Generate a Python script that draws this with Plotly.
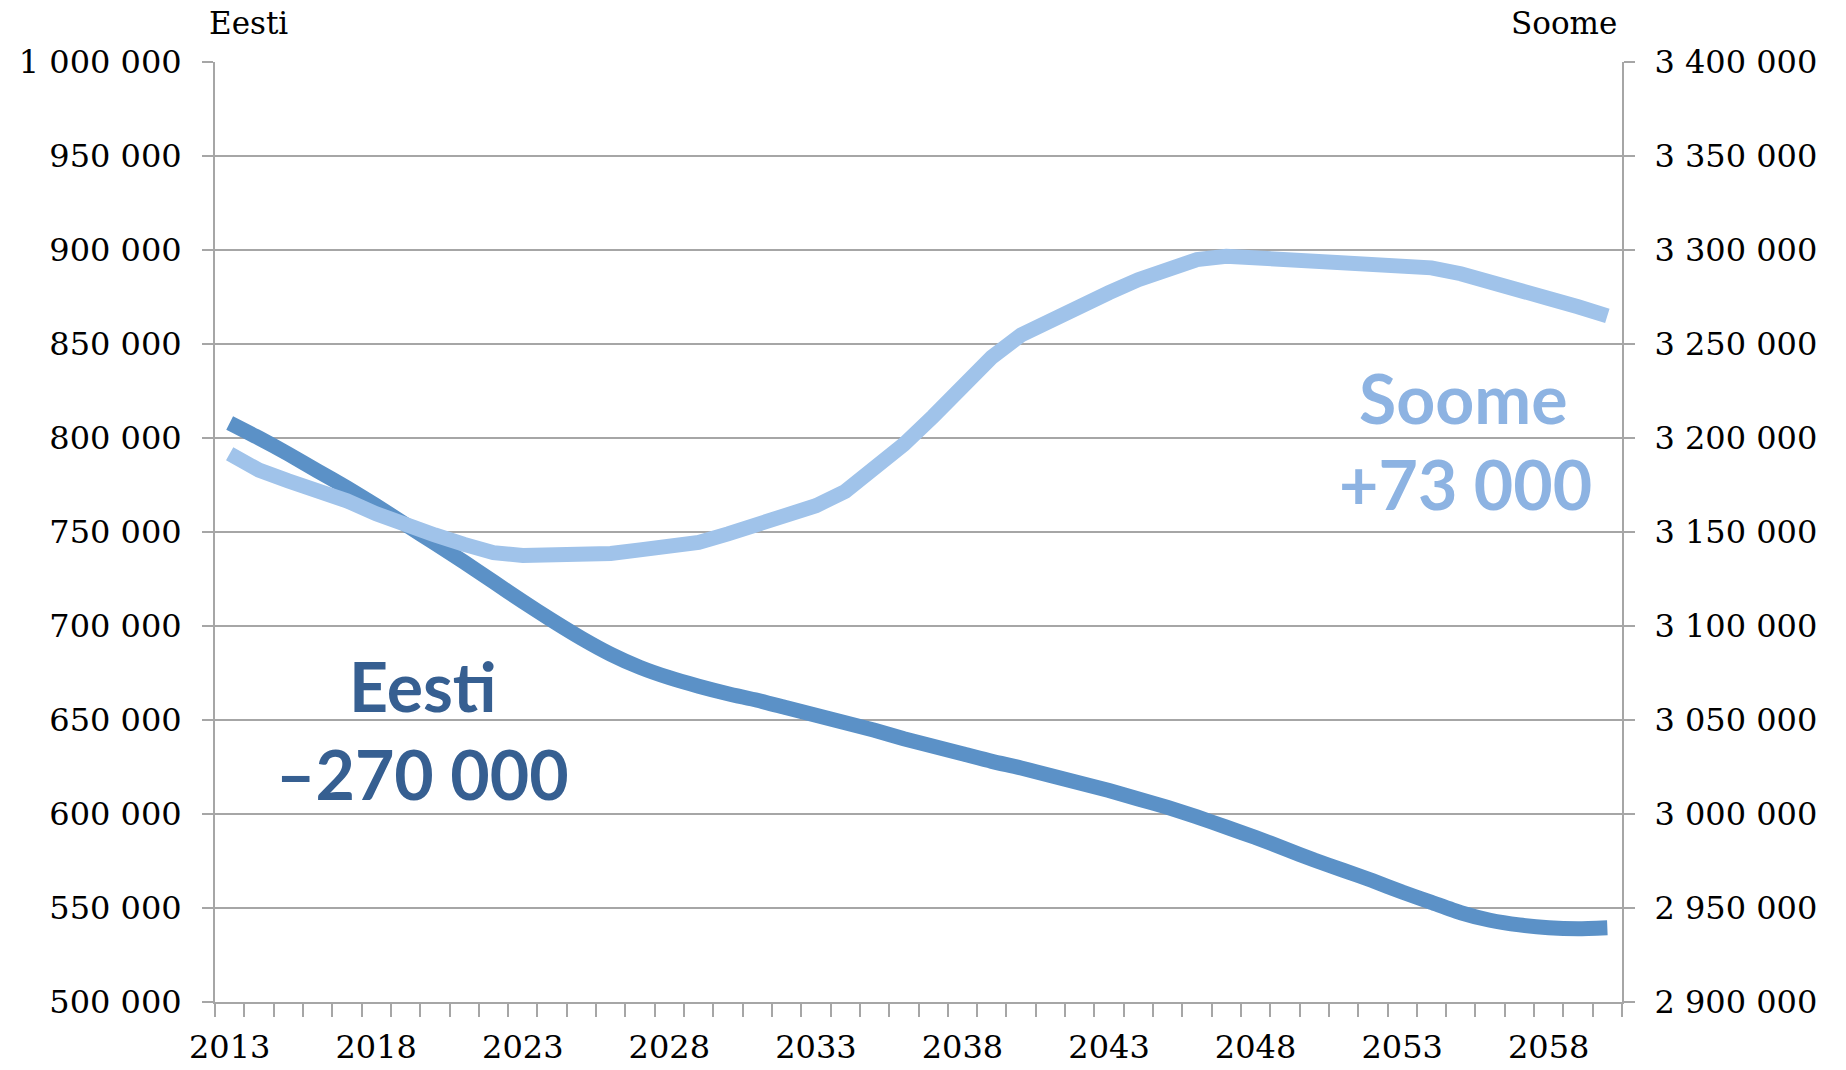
import plotly.graph_objects as go

years = list(range(2013, 2061))

eesti = [808, 800, 791.5, 782.5, 773.5, 764, 754, 744, 734, 723.5,
         713, 703, 693.5, 685, 678, 672.5, 668, 664, 660.5, 656.5,
         652.5, 648.5, 644.5, 640, 636, 632, 628, 624.5, 620.5, 616.5,
         612.5, 608, 603.5, 598.5, 593, 587.5, 581.5, 575.5, 570, 564.5,
         558.5, 553, 547.5, 543.5, 541, 539.5, 539, 539.5]
eesti = [v * 1000 for v in eesti]

soome = [3191.6, 3182.9, 3177.2, 3172.2, 3166.6, 3159.7, 3153.4, 3148.4, 3143.4, 3139,
         3137.5, 3137.5, 3138, 3138.6, 3140.5, 3142, 3144.5, 3149, 3154, 3159,
         3164, 3171.6, 3182.9, 3196.6, 3211.5, 3227.5, 3243, 3254.8, 3263, 3270.5,
         3277.3, 3284.2, 3290.5, 3294.9, 3296.7, 3296.1, 3294.9, 3293.6, 3293, 3293.6,
         3293, 3290.5, 3287.4, 3283.6, 3278.6, 3274.2, 3269.8, 3265]
soome = [v * 1000 for v in soome]

x_labels = list(range(2013, 2061, 5))
minor_ticks = [y - 0.5 for y in range(2013, 2062)]

GRID = "#a6a6a6"
SERIF = "DejaVu Serif"
TICKFONT = dict(family=SERIF, size=32, color="black")

fig = go.Figure()
fig.add_trace(go.Scatter(x=years, y=eesti, mode="lines", name="Eesti",
                         line=dict(color="#5b91c7", width=15, shape="spline", smoothing=0.6),
                         yaxis="y"))
fig.add_trace(go.Scatter(x=years, y=soome, mode="lines", name="Soome",
                         line=dict(color="#a0c3ea", width=15),
                         yaxis="y2"))

fig.update_layout(
    width=1846, height=1070,
    margin=dict(l=215, r=224, t=62, b=68),
    paper_bgcolor="white", plot_bgcolor="white",
    showlegend=False,
    separators=", ",
    xaxis=dict(
        range=[2012.5, 2060.5], automargin=False,
        tickmode="array", tickvals=x_labels, ticktext=[str(v) for v in x_labels],
        ticks="", showgrid=False, zeroline=False,
        showline=True, linecolor=GRID, linewidth=2,
        tickfont=TICKFONT, ticklabelstandoff=16,
        minor=dict(tickmode="array", tickvals=minor_ticks, ticks="outside",
                   ticklen=13, tickwidth=2, tickcolor=GRID, showgrid=False),
    ),
    yaxis=dict(
        range=[500000, 1000000], dtick=50000, tick0=500000, automargin=False,
        tickformat=",d", ticks="outside", ticklen=11, tickwidth=2, tickcolor=GRID,
        showgrid=True, gridcolor=GRID, gridwidth=2, zeroline=False,
        showline=True, linecolor=GRID, linewidth=2,
        tickfont=TICKFONT, ticklabelstandoff=14,
    ),
    yaxis2=dict(
        range=[2900000, 3400000], dtick=50000, tick0=2900000, automargin=False,
        overlaying="y", side="right",
        tickformat=",d", ticks="outside", ticklen=11, tickwidth=2, tickcolor=GRID,
        showgrid=False, zeroline=False,
        showline=True, linecolor=GRID, linewidth=2,
        tickfont=TICKFONT, ticklabelstandoff=13,
    ),
)

BIG = 68
ann = [
    dict(text="Eesti", x=-0.0057, y=1.041, xanchor="left", yanchor="middle",
         font=dict(family=SERIF, size=31, color="black")),
    dict(text="Soome", x=0.998, y=1.041, xanchor="right", yanchor="middle",
         font=dict(family=SERIF, size=31, color="black")),
    dict(text="<b>Eesti</b>", x=0.1478, y=0.3372, xanchor="center", yanchor="middle",
         font=dict(family="Lato", size=BIG, color="#365f91")),
    dict(text="<b>–270 000</b>", x=0.1478, y=0.2436, xanchor="center", yanchor="middle",
         font=dict(family="Lato", size=BIG, color="#365f91")),
    dict(text="<b>Soome</b>", x=0.887, y=0.6426, xanchor="center", yanchor="middle",
         font=dict(family="Lato", size=BIG, color="#8db3e2")),
    dict(text="<b>+73 000</b>", x=0.889, y=0.552, xanchor="center", yanchor="middle",
         font=dict(family="Lato", size=BIG, color="#8db3e2")),
]
for a in ann:
    a.update(xref="paper", yref="paper", showarrow=False)
fig.update_layout(annotations=ann)

fig.write_html("out.html", config={"displayModeBar": False},
               post_script="document.body.style.margin='0';document.body.style.overflow='hidden';")
